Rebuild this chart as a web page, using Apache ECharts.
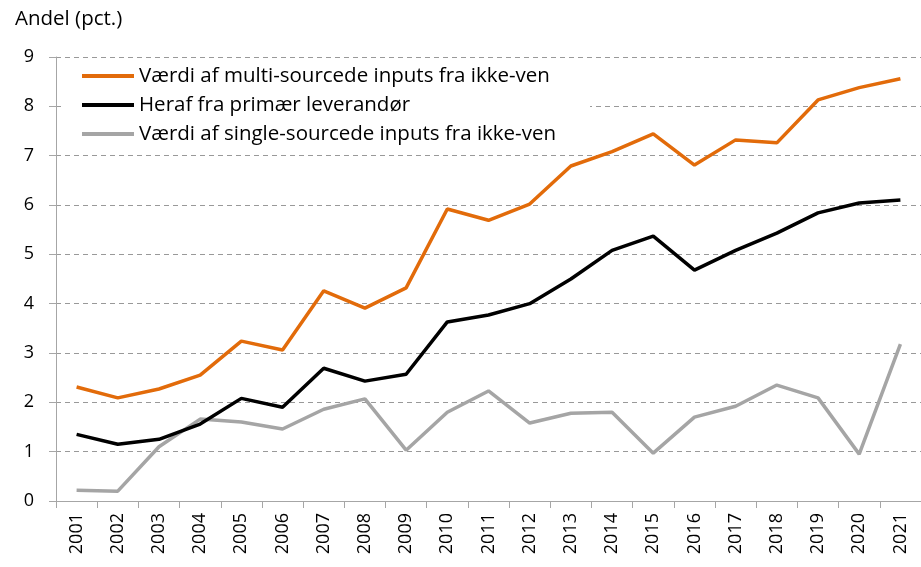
<!DOCTYPE html>
<html>
<head>
<meta charset="utf-8">
<script src="https://cdn.jsdelivr.net/npm/echarts@6/dist/echarts.min.js"></script>
<style>
	html, body { margin: 0; padding: 0; background: #fff; }
	#main { width: 921px; height: 567px; }
</style>
</head>
<body>
<div id="main"></div>
<script type="text/javascript">
	// årstal på x-aksen
	var years = ['2001', '2002', '2003', '2004', '2005', '2006', '2007', '2008', '2009', '2010',
		'2011', '2012', '2013', '2014', '2015', '2016', '2017', '2018', '2019', '2020', '2021'];

	var multiNames = 'Værdi af multi-sourcede inputs fra ikke-ven';
	var primaerNames = 'Heraf fra primær leverandør';
	var singleNames = 'Værdi af single-sourcede inputs fra ikke-ven';

	var multiVals = [2.31, 2.09, 2.27, 2.55, 3.24, 3.06, 4.26, 3.91, 4.32, 5.92,
		5.69, 6.02, 6.79, 7.08, 7.44, 6.81, 7.32, 7.26, 8.13, 8.38, 8.56];
	var primaerVals = [1.35, 1.15, 1.25, 1.56, 2.08, 1.90, 2.69, 2.43, 2.57, 3.63,
		3.77, 4.00, 4.50, 5.08, 5.37, 4.68, 5.08, 5.43, 5.84, 6.04, 6.10];
	var singleVals = [0.22, 0.20, 1.10, 1.66, 1.60, 1.46, 1.86, 2.07, 1.03, 1.80,
		2.23, 1.58, 1.78, 1.80, 0.97, 1.70, 1.92, 2.35, 2.09, 0.95, 3.18];

	var font = 'Open Sans, Noto Sans, sans-serif';

	var myChart = echarts.init(document.getElementById('main'));

	var option = {
		animation: false,
		title: {
			text: 'Andel (pct.)',
			left: 10,
			top: 4,
			textStyle: { fontFamily: font, fontSize: 20.5, fontWeight: 'normal', color: '#000' }
		},
		grid: { left: 56, right: 0, top: 57, bottom: 66, containLabel: false },
		legend: {
			orient: 'vertical',
			left: 62,
			top: 63,
			padding: [2, 34, 2, 20],
			backgroundColor: '#fff',
			icon: 'rect',
			itemWidth: 52,
			itemHeight: 4,
			itemGap: 7,
			textStyle: { fontFamily: font, fontSize: 20.5, lineHeight: 22, color: '#000' },
			data: [multiNames, primaerNames, singleNames]
		},
		xAxis: {
			type: 'category',
			data: years,
			boundaryGap: true,
			axisLine: { lineStyle: { color: '#a6a6a6', width: 1 } },
			axisTick: { show: true, length: 7, lineStyle: { color: '#a6a6a6' } },
			axisLabel: { rotate: 90, fontFamily: font, fontSize: 18, color: '#000', margin: 12 }
		},
		yAxis: {
			type: 'value',
			min: 0,
			max: 9,
			interval: 1,
			axisLine: { show: true, lineStyle: { color: '#a6a6a6', width: 1 } },
			axisTick: { show: true, length: 7, lineStyle: { color: '#a6a6a6' } },
			axisLabel: { fontFamily: font, fontSize: 18, color: '#000', margin: 22 },
			splitLine: { lineStyle: { color: '#999', type: [5, 4], width: 1 } }
		},
		series: [
			{
				name: multiNames,
				type: 'line',
				data: multiVals,
				symbol: 'none',
				lineStyle: { color: '#e26b0a', width: 3.5 },
				itemStyle: { color: '#e26b0a' },
				z: 4
			},
			{
				name: primaerNames,
				type: 'line',
				data: primaerVals,
				symbol: 'none',
				lineStyle: { color: '#000', width: 3.5 },
				itemStyle: { color: '#000' },
				z: 3
			},
			{
				name: singleNames,
				type: 'line',
				data: singleVals,
				symbol: 'none',
				lineStyle: { color: '#a5a5a5', width: 3.5 },
				itemStyle: { color: '#a5a5a5' },
				z: 2
			}
		]
	};

	myChart.setOption(option);
</script>
</body>
</html>
